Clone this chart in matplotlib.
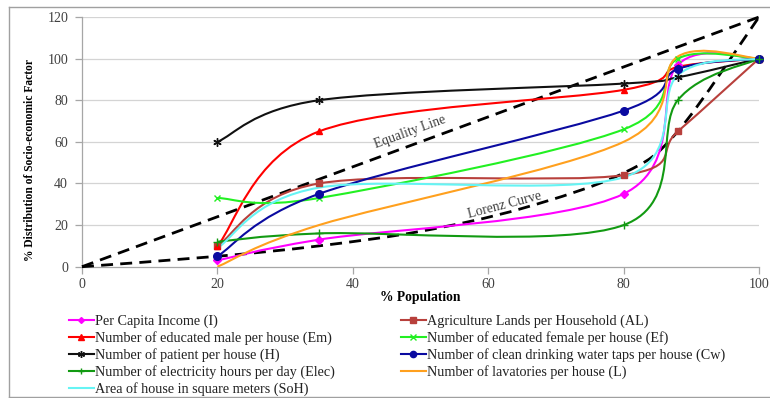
import matplotlib
matplotlib.use("Agg")
import matplotlib.pyplot as plt
from matplotlib.path import Path
from matplotlib.patches import PathPatch
from matplotlib.lines import Line2D
import numpy as np

# ---------------- data ----------------
x_pop = [20, 35, 80, 88, 100]
income = [3, 13, 35, 97, 100]          # Per Capita Income (I)
agri = [10, 40, 44, 65, 100]           # Agriculture Lands per Household (AL)
edu_male = [10, 65, 85, 96, 100]       # educated male (Em)
edu_female = [33, 33, 66, 100, 100]    # educated female (Ef)
patient = [60, 80, 88, 91, 100]        # patient per house (H)
water = [5, 35, 75, 95, 100]           # clean drinking water taps (Cw)
elec = [12, 16, 20, 80, 100]           # electricity hours (Elec)
lavatory = [0, 20, 60, 101, 100]       # lavatories (L)
house_area = [9, 38, 43, 92, 100]      # area of house (SoH)

equality_x = [0, 100]
equality_y = [0, 120]
lorenz_x = [0, 20, 35, 50, 65, 80, 88, 100]
lorenz_y = [0, 5, 10, 17, 28, 45, 65, 120]

x_ticks = [0, 20, 40, 60, 80, 100]
y_ticks = [0, 20, 40, 60, 80, 100, 120]

series = [
    ("Per Capita Income (I)", income, "#FF00FF", "D", 4),
    ("Agriculture Lands per Household (AL)", agri, "#B8403C", "s", 5),
    ("Number of educated male per house (Em)", edu_male, "#FF0000", "^", 5),
    ("Number of educated female per house (Ef)", edu_female, "#22F022", "x", 5),
    ("Number of patient per house (H)", patient, "#111111", (6, 2, 0), 6),
    ("Number of clean drinking water taps per house (Cw)", water, "#0A0AA0", "o", 5.5),
    ("Number of electricity hours per day (Elec)", elec, "#129A12", "+", 6),
    ("Number of lavatories per house (L)", lavatory, "#FFA01E", None, 0),
    ("Area of house in square meters (SoH)", house_area, "#66F4F4", None, 0),
]

plt.rcParams["font.family"] = ["Liberation Serif", "DejaVu Serif"]

W, H = 770, 398
fig = plt.figure(figsize=(W / 100, H / 100), dpi=100)


def fx(px):
    return px / W


def fy(py):
    return 1 - py / H


ax = fig.add_axes([fx(82), fy(266.7), fx(759) - fx(82), fy(17) - fy(266.7)])


def smooth_path(xs, ys):
    P = np.column_stack([xs, ys]).astype(float)
    n = len(P)
    verts = [P[0]]
    codes = [Path.MOVETO]
    for i in range(n - 1):
        p0 = P[i - 1] if i > 0 else P[i]
        p1, p2 = P[i], P[i + 1]
        p3 = P[i + 2] if i + 2 < n else P[i + 1]
        c1 = p1 + (p2 - p0) / 6.0
        c2 = p2 - (p3 - p1) / 6.0
        verts += [c1, c2, p2]
        codes += [Path.CURVE4] * 3
    return Path(verts, codes)


ax.set_xlim(0, 100)
ax.set_ylim(0, 120)

for yv in y_ticks[1:]:
    ax.axhline(yv, color="#D4D4D4", lw=0.9, zorder=0)

# dashed reference curves
for xs, ys in [(equality_x, equality_y), (lorenz_x, lorenz_y)]:
    ax.add_patch(PathPatch(smooth_path(xs, ys), facecolor="none", edgecolor="black",
                           lw=2.0, linestyle=(0, (4.3, 2.6)), capstyle="butt",
                           transform=ax.transData, clip_on=False, zorder=3))

handles = {}
for label, ys, color, marker, ms in series:
    ax.add_patch(PathPatch(smooth_path(x_pop, ys), facecolor="none", edgecolor=color,
                           lw=1.5, transform=ax.transData, zorder=4))
    if marker is not None:
        ax.plot(x_pop, ys, linestyle="none", marker=marker, ms=ms, color=color,
                mec=color, mew=1.0, zorder=5, clip_on=False)
    handles[label] = Line2D([], [], color=color, lw=1.5, marker=marker, ms=ms - 1 if ms else 0,
                            mec=color, mew=1.0)

ax.text(48.5, 64.5, "Equality Line", rotation=20, color="#404040", fontsize=9.8,
        ha="center", va="center", rotation_mode="anchor")
ax.text(62.5, 29.5, "Lorenz Curve", rotation=14.5, color="#404040", fontsize=9.8,
        ha="center", va="center", rotation_mode="anchor")

for s in ["top", "right"]:
    ax.spines[s].set_visible(False)
for s in ["left", "bottom"]:
    ax.spines[s].set_color("#A6A6A6")
    ax.spines[s].set_linewidth(0.9)
ax.set_xticks(x_ticks)
ax.set_yticks(y_ticks)
ax.tick_params(axis="both", colors="#A6A6A6", labelcolor="#404040", labelsize=10,
               length=5, width=0.9, direction="out")
ax.tick_params(axis="y", pad=5)
ax.tick_params(axis="x", pad=3)

fig.text(fx(420), fy(298), "% Population", ha="center", va="center",
         fontsize=9.8, fontweight="bold")
fig.text(fx(30), fy(160), "% Distribution of Socio-economic Factor", ha="center",
         va="center", rotation=90, fontsize=8.3, fontweight="bold")

labels_col1 = [series[i][0] for i in (0, 2, 4, 6, 8)]
labels_col2 = [series[i][0] for i in (1, 3, 5, 7)]
for labs, x0 in [(labels_col1, 69), (labels_col2, 401)]:
    fig.legend([handles[l] for l in labs], labs, loc="upper left",
               bbox_to_anchor=(fx(x0), fy(315)), frameon=False, borderpad=0,
               borderaxespad=0, fontsize=10.2, handlelength=1.75, handletextpad=0.12,
               labelspacing=0.2, labelcolor="#222222")

# outer chart frame
for (x0, y0, x1, y1) in [(9, 7, 9, 397), (9, 7, 775, 7), (9, 397, 775, 397)]:
    fig.add_artist(Line2D([fx(x0), fx(x1)], [fy(y0), fy(y1)], color="#A0A0A0", lw=1.0))

fig.savefig("out.png", dpi=100)
